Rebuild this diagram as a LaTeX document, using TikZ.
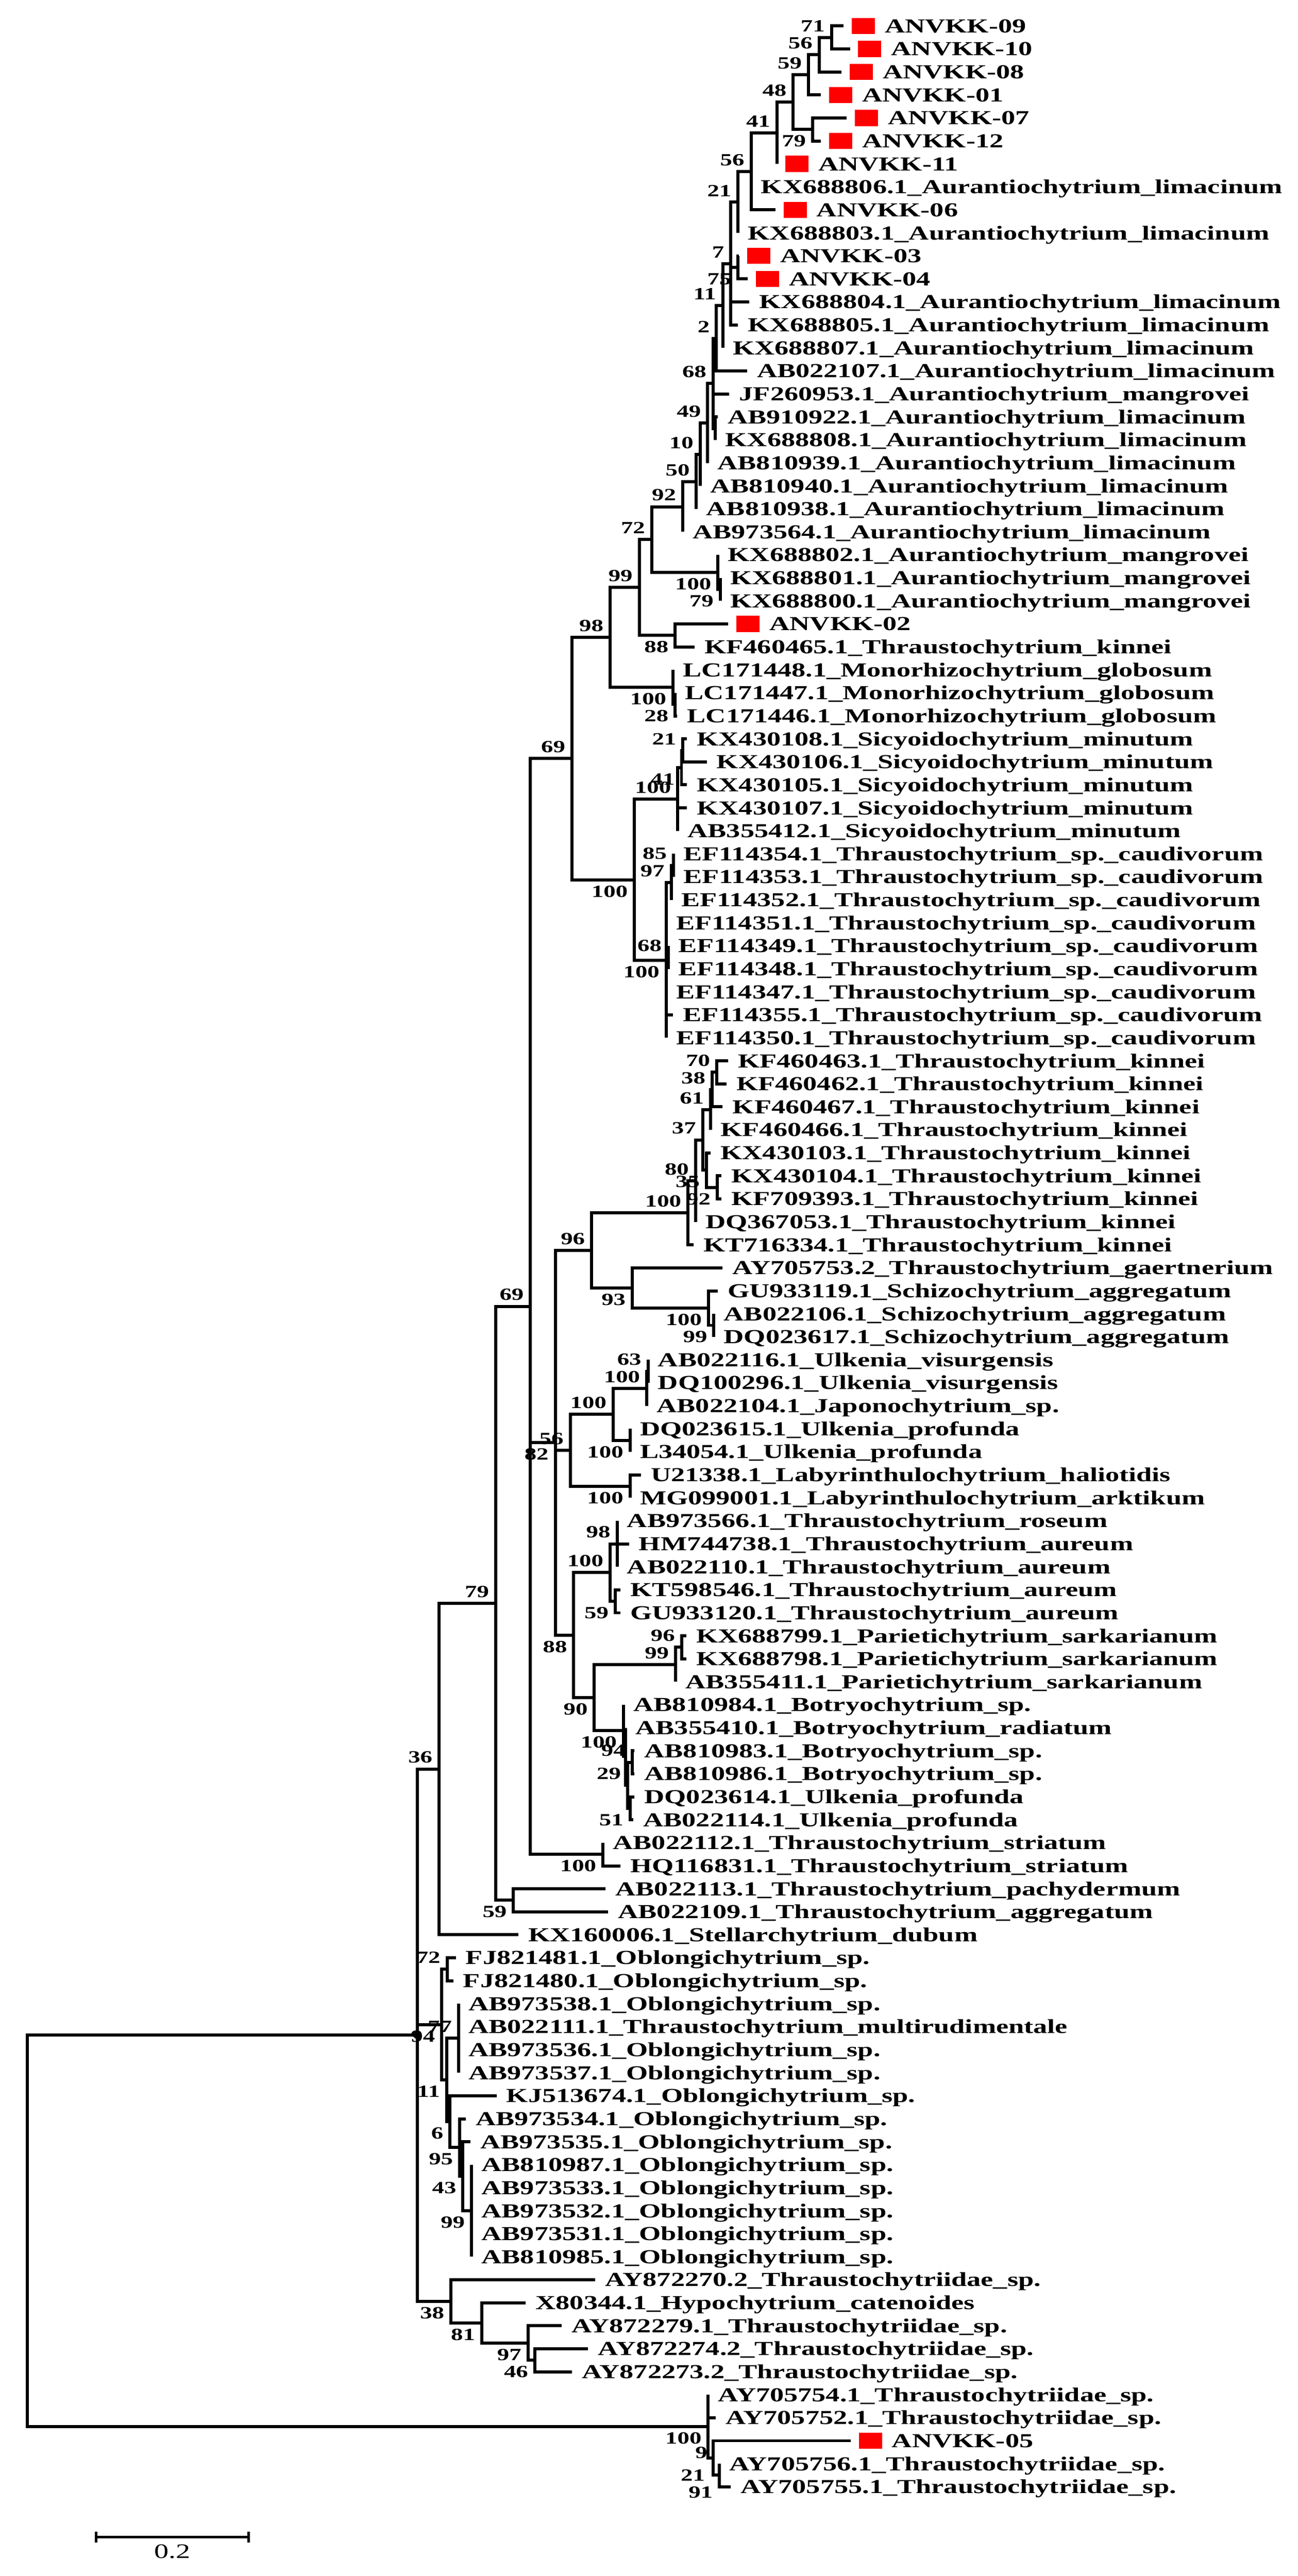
\documentclass[tikz,border=0pt]{standalone}
\usepackage{fontspec}
\usetikzlibrary{calc}
\newfontfamily\lfont{Liberation Serif}[FakeStretch=1.41]
\newcommand\Lf[4]{\coordinate (#1) at (#3,{16+(#2-1)*14.18});
  \node[lt] (#1t) at ($(#1)+(6,4.1)$) {#4};}
\newcommand\Lr[4]{\coordinate (#1) at (#3,{16+(#2-1)*14.18});
  \node[rsq] (#1s) at ($(#1)+(12.15,0)$) {};
  \node[lt] (#1t) at ($(#1)+(25.3,4.1)$) {#4};}
\newcommand\Nd[5]{\coordinate (tmp) at ($(#3)!0.5!(#4)$);
  \coordinate (#1) at (#2,0 |- tmp);
  \foreach \c in {#5} {\draw[br] (\c) -| (#1);}}
\newcommand\Sa[2]{\node[st,anchor=south east] at ($(#1)+(-4,-3.5)$) {#2};}
\newcommand\Sb[2]{\node[st,anchor=north east] at ($(#1)+(-4,3.5)$) {#2};}
\begin{document}
\begin{tikzpicture}[x=0.05cm,y=-0.05cm,
  br/.style={line width=2.7pt,line join=miter},
  lt/.style={anchor=base west,inner sep=0pt,font=\lfont\bfseries\fontsize{17.4}{18}\selectfont},
  st/.style={inner sep=0pt,font=\lfont\bfseries\fontsize{15}{16}\selectfont},
  rsq/.style={fill=red,draw=none,minimum width=14.3*0.05cm,minimum height=0.5cm,inner sep=0pt}]
\path[use as bounding box,fill=white] (0,0) rectangle (800,1588.3);
% ---------- leaves
\Lr{L1}{1}{520}{ANVKK-09}
\Lr{L2}{2}{524}{ANVKK-10}
\Lr{L3}{3}{518.8}{ANVKK-08}
\Lr{L4}{4}{506}{ANVKK-01}
\Lr{L5}{5}{522}{ANVKK-07}
\Lr{L6}{6}{506}{ANVKK-12}
\Lr{L7}{7}{479}{ANVKK-11}
\Lf{L8}{8}{463}{KX688806.1\_Aurantiochytrium\_limacinum}
\Lr{L9}{9}{478}{ANVKK-06}
\Lf{L10}{10}{455}{KX688803.1\_Aurantiochytrium\_limacinum}
\Lr{L11}{11}{455.5}{ANVKK-03}
\Lr{L12}{12}{461}{ANVKK-04}
\Lf{L13}{13}{462}{KX688804.1\_Aurantiochytrium\_limacinum}
\Lf{L14}{14}{455}{KX688805.1\_Aurantiochytrium\_limacinum}
\Lf{L15}{15}{445.6}{KX688807.1\_Aurantiochytrium\_limacinum}
\Lf{L16}{16}{460.5}{AB022107.1\_Aurantiochytrium\_limacinum}
\Lf{L17}{17}{449.6}{JF260953.1\_Aurantiochytrium\_mangrovei}
\Lf{L18}{18}{442.5}{AB910922.1\_Aurantiochytrium\_limacinum}
\Lf{L19}{19}{441}{KX688808.1\_Aurantiochytrium\_limacinum}
\Lf{L20}{20}{436.2}{AB810939.1\_Aurantiochytrium\_limacinum}
\Lf{L21}{21}{431.6}{AB810940.1\_Aurantiochytrium\_limacinum}
\Lf{L22}{22}{429.3}{AB810938.1\_Aurantiochytrium\_limacinum}
\Lf{L23}{23}{420.9}{AB973564.1\_Aurantiochytrium\_limacinum}
\Lf{L24}{24}{442.6}{KX688802.1\_Aurantiochytrium\_mangrovei}
\Lf{L25}{25}{444}{KX688801.1\_Aurantiochytrium\_mangrovei}
\Lf{L26}{26}{444}{KX688800.1\_Aurantiochytrium\_mangrovei}
\Lr{L27}{27}{449}{ANVKK-02}
\Lf{L28}{28}{428.2}{KF460465.1\_Thraustochytrium\_kinnei}
\Lf{L29}{29}{414.9}{LC171448.1\_Monorhizochytrium\_globosum}
\Lf{L30}{30}{416.2}{LC171447.1\_Monorhizochytrium\_globosum}
\Lf{L31}{31}{417.5}{LC171446.1\_Monorhizochytrium\_globosum}
\Lf{L32}{32}{423.5}{KX430108.1\_Sicyoidochytrium\_minutum}
\Lf{L33}{33}{435.7}{KX430106.1\_Sicyoidochytrium\_minutum}
\Lf{L34}{34}{423.5}{KX430105.1\_Sicyoidochytrium\_minutum}
\Lf{L35}{35}{423.5}{KX430107.1\_Sicyoidochytrium\_minutum}
\Lf{L36}{36}{417.8}{AB355412.1\_Sicyoidochytrium\_minutum}
\Lf{L37}{37}{415.2}{EF114354.1\_Thraustochytrium\_sp.\_caudivorum}
\Lf{L38}{38}{415.2}{EF114353.1\_Thraustochytrium\_sp.\_caudivorum}
\Lf{L39}{39}{413.8}{EF114352.1\_Thraustochytrium\_sp.\_caudivorum}
\Lf{L40}{40}{410.7}{EF114351.1\_Thraustochytrium\_sp.\_caudivorum}
\Lf{L41}{41}{412}{EF114349.1\_Thraustochytrium\_sp.\_caudivorum}
\Lf{L42}{42}{412}{EF114348.1\_Thraustochytrium\_sp.\_caudivorum}
\Lf{L43}{43}{410.7}{EF114347.1\_Thraustochytrium\_sp.\_caudivorum}
\Lf{L44}{44}{414.8}{EF114355.1\_Thraustochytrium\_sp.\_caudivorum}
\Lf{L45}{45}{410.7}{EF114350.1\_Thraustochytrium\_sp.\_caudivorum}
\Lf{L46}{46}{448.8}{KF460463.1\_Thraustochytrium\_kinnei}
\Lf{L47}{47}{447.8}{KF460462.1\_Thraustochytrium\_kinnei}
\Lf{L48}{48}{445.5}{KF460467.1\_Thraustochytrium\_kinnei}
\Lf{L49}{49}{438.1}{KF460466.1\_Thraustochytrium\_kinnei}
\Lf{L50}{50}{438.1}{KX430103.1\_Thraustochytrium\_kinnei}
\Lf{L51}{51}{444.8}{KX430104.1\_Thraustochytrium\_kinnei}
\Lf{L52}{52}{444.8}{KF709393.1\_Thraustochytrium\_kinnei}
\Lf{L53}{53}{428.8}{DQ367053.1\_Thraustochytrium\_kinnei}
\Lf{L54}{54}{427.5}{KT716334.1\_Thraustochytrium\_kinnei}
\Lf{L55}{55}{445.5}{AY705753.2\_Thraustochytrium\_gaertnerium}
\Lf{L56}{56}{442.4}{GU933119.1\_Schizochytrium\_aggregatum}
\Lf{L57}{57}{440.1}{AB022106.1\_Schizochytrium\_aggregatum}
\Lf{L58}{58}{440.1}{DQ023617.1\_Schizochytrium\_aggregatum}
\Lf{L59}{59}{399.5}{AB022116.1\_Ulkenia\_visurgensis}
\Lf{L60}{60}{399.5}{DQ100296.1\_Ulkenia\_visurgensis}
\Lf{L61}{61}{398.7}{AB022104.1\_Japonochytrium\_sp.}
\Lf{L62}{62}{388.4}{DQ023615.1\_Ulkenia\_profunda}
\Lf{L63}{63}{388.4}{L34054.1\_Ulkenia\_profunda}
\Lf{L64}{64}{395.1}{U21338.1\_Labyrinthulochytrium\_haliotidis}
\Lf{L65}{65}{388.4}{MG099001.1\_Labyrinthulochytrium\_arktikum}
\Lf{L66}{66}{380.4}{AB973566.1\_Thraustochytrium\_roseum}
\Lf{L67}{67}{387.7}{HM744738.1\_Thraustochytrium\_aureum}
\Lf{L68}{68}{380.4}{AB022110.1\_Thraustochytrium\_aureum}
\Lf{L69}{69}{382.4}{KT598546.1\_Thraustochytrium\_aureum}
\Lf{L70}{70}{382.4}{GU933120.1\_Thraustochytrium\_aureum}
\Lf{L71}{71}{423.1}{KX688799.1\_Parietichytrium\_sarkarianum}
\Lf{L72}{72}{423.1}{KX688798.1\_Parietichytrium\_sarkarianum}
\Lf{L73}{73}{416.5}{AB355411.1\_Parietichytrium\_sarkarianum}
\Lf{L74}{74}{384.4}{AB810984.1\_Botryochytrium\_sp.}
\Lf{L75}{75}{385.7}{AB355410.1\_Botryochytrium\_radiatum}
\Lf{L76}{76}{391.1}{AB810983.1\_Botryochytrium\_sp.}
\Lf{L77}{77}{391.1}{AB810986.1\_Botryochytrium\_sp.}
\Lf{L78}{78}{391.1}{DQ023614.1\_Ulkenia\_profunda}
\Lf{L79}{79}{390.4}{AB022114.1\_Ulkenia\_profunda}
\Lf{L80}{80}{371.7}{AB022112.1\_Thraustochytrium\_striatum}
\Lf{L81}{81}{382.4}{HQ116831.1\_Thraustochytrium\_striatum}
\Lf{L82}{82}{373.3}{AB022113.1\_Thraustochytrium\_pachydermum}
\Lf{L83}{83}{374.9}{AB022109.1\_Thraustochytrium\_aggregatum}
\Lf{L84}{84}{319.5}{KX160006.1\_Stellarchytrium\_dubum}
\Lf{L85}{85}{281}{FJ821481.1\_Oblongichytrium\_sp.}
\Lf{L86}{86}{279.4}{FJ821480.1\_Oblongichytrium\_sp.}
\Lf{L87}{87}{282.7}{AB973538.1\_Oblongichytrium\_sp.}
\Lf{L88}{88}{282.7}{AB022111.1\_Thraustochytrium\_multirudimentale}
\Lf{L89}{89}{282.7}{AB973536.1\_Oblongichytrium\_sp.}
\Lf{L90}{90}{282.7}{AB973537.1\_Oblongichytrium\_sp.}
\Lf{L91}{91}{306.1}{KJ513674.1\_Oblongichytrium\_sp.}
\Lf{L92}{92}{287.1}{AB973534.1\_Oblongichytrium\_sp.}
\Lf{L93}{93}{290}{AB973535.1\_Oblongichytrium\_sp.}
\Lf{L94}{94}{290.7}{AB810987.1\_Oblongichytrium\_sp.}
\Lf{L95}{95}{290.7}{AB973533.1\_Oblongichytrium\_sp.}
\Lf{L96}{96}{290.7}{AB973532.1\_Oblongichytrium\_sp.}
\Lf{L97}{97}{290.7}{AB973531.1\_Oblongichytrium\_sp.}
\Lf{L98}{98}{290.7}{AB810985.1\_Oblongichytrium\_sp.}
\Lf{L99}{99}{366.9}{AY872270.2\_Thraustochytriidae\_sp.}
\Lf{L100}{100}{324.1}{X80344.1\_Hypochytrium\_catenoides}
\Lf{L101}{101}{346.2}{AY872279.1\_Thraustochytriidae\_sp.}
\Lf{L102}{102}{362.6}{AY872274.2\_Thraustochytriidae\_sp.}
\Lf{L103}{103}{352.6}{AY872273.2\_Thraustochytriidae\_sp.}
\Lf{L104}{104}{436.6}{AY705754.1\_Thraustochytriidae\_sp.}
\Lf{L105}{105}{441.2}{AY705752.1\_Thraustochytriidae\_sp.}
\Lr{L106}{106}{524.4}{ANVKK-05}
\Lf{L107}{107}{443.5}{AY705756.1\_Thraustochytriidae\_sp.}
\Lf{L108}{108}{450.4}{AY705755.1\_Thraustochytriidae\_sp.}
% ---------- internal nodes
\Nd{n71}{512.6}{L1}{L2}{L1,L2}\Sa{n71}{71}
\Nd{n56a}{505}{n71}{L3}{n71,L3}\Sa{n56a}{56}
\Nd{n59}{498.4}{n56a}{L4}{n56a,L4}\Sa{n59}{59}
\Nd{n79a}{501}{L5}{L6}{L5,L6}\Sb{n79a}{79}
\Nd{n48}{489}{n59}{n79a}{n59,n79a}\Sa{n48}{48}
\Nd{n41}{479}{n48}{L7}{n48,L7}\Sa{n41}{41}
\Nd{n56b}{463}{n41}{L9}{n41,L8,L9}\Sa{n56b}{56}
\Nd{n21}{455}{n56b}{L10}{n56b,L10}\Sa{n21}{21}
\Nd{n34}{455}{L11}{L12}{L11,L12}\Sb{n34}{75}
\Nd{n7}{450.5}{n21}{L14}{n21,n34,L13,L14}\Sa{n7}{7}
\Nd{n11}{445.6}{n7}{L15}{n7,L15}\Sa{n11}{11}
\Nd{n2}{441.6}{n11}{L16}{n11,L16}\Sa{n2}{2}
\Nd{nsub}{441}{L18}{L19}{L18,L19}
\Nd{n68}{439.6}{n2}{nsub}{n2,L17,nsub}\Sa{n68}{68}
\Nd{n49}{436.2}{n68}{L20}{n68,L20}\Sa{n49}{49}
\Nd{n10}{431.6}{n49}{L21}{n49,L21}\Sa{n10}{10}
\Nd{n50}{429.3}{n10}{L22}{n10,L22}\Sa{n50}{50}
\Nd{n92}{420.9}{n50}{L23}{n50,L23}\Sa{n92}{92}
\Nd{n79m}{444}{L25}{L26}{L25,L26}\Sb{n79m}{79}
\Nd{n100m}{442.6}{L24}{n79m}{L24,n79m}\Sb{n100m}{100}
\Nd{n72}{401.8}{n92}{n100m}{n92,n100m}\Sa{n72}{72}
\Nd{n88}{416.2}{L27}{L28}{L27,L28}\Sb{n88}{88}
\Nd{n99}{394.1}{n72}{n88}{n72,n88}\Sa{n99}{99}
\Nd{n28}{416.2}{L30}{L31}{L30,L31}\Sb{n28}{28}
\Nd{n100lc}{414.9}{L29}{n28}{L29,n28}\Sb{n100lc}{100}
\Nd{n98}{376.1}{n99}{n100lc}{n99,n100lc}\Sa{n98}{98}
\Nd{n21s}{421}{L32}{L33}{L32,L33}\Sa{n21s}{21}
\Nd{n41s}{420.1}{n21s}{L34}{n21s,L34}\Sb{n41s}{41}
\Nd{n100s}{417.8}{n41s}{L36}{n41s,L35,L36}\Sa{n100s}{100}
\Nd{n85}{415.2}{L37}{L38}{L37,L38}\Sa{n85}{85}
\Nd{n97}{413.8}{n85}{L39}{n85,L39}\Sa{n97}{97}
\Nd{n68e}{412}{L41}{L42}{L41,L42}\Sa{n68e}{68}
\Nd{n100e}{410.7}{n97}{L45}{n97,L40,n68e,L43,L44,L45}\Sb{n100e}{100}
\Nd{n100se}{391.1}{n100s}{n100e}{n100s,n100e}\Sb{n100se}{100}
\Nd{n69u}{352.6}{n98}{n100se}{n98,n100se}\Sa{n69u}{69}
\Nd{n70}{441.9}{L46}{L47}{L46,L47}\Sa{n70}{70}
\Nd{n38k}{439}{n70}{L48}{n70,L48}\Sa{n38k}{38}
\Nd{n61}{438.1}{n38k}{L49}{n38k,L49}\Sa{n61}{61}
\Nd{n92k}{442.2}{L51}{L52}{L51,L52}\Sb{n92k}{92}
\Nd{n35}{435.5}{L50}{n92k}{L50,n92k}\Sb{n35}{35}
\Nd{n37}{433.2}{n61}{n35}{n61,n35}\Sa{n37}{37}
\Nd{n80}{428.8}{n37}{L53}{n37,L53}\Sa{n80}{80}
\Nd{n100k}{424.1}{n80}{L54}{n80,L54}\Sa{n100k}{100}
\Nd{n99sc}{440.1}{L57}{L58}{L57,L58}\Sb{n99sc}{99}
\Nd{n100sc}{436.8}{L56}{n99sc}{L56,n99sc}\Sb{n100sc}{100}
\Nd{n93}{389.8}{L55}{n100sc}{L55,n100sc}\Sb{n93}{93}
\Nd{n96}{364.7}{n100k}{n93}{n100k,n93}\Sa{n96}{96}
\Nd{n63}{399.5}{L59}{L60}{L59,L60}\Sa{n63}{63}
\Nd{n100u}{398.7}{n63}{L61}{n63,L61}\Sa{n100u}{100}
\Nd{n100u2}{388.4}{L62}{L63}{L62,L63}\Sb{n100u2}{100}
\Nd{n100ua}{378}{n100u}{n100u2}{n100u,n100u2}\Sa{n100ua}{100}
\Nd{n100l}{388.4}{L64}{L65}{L64,L65}\Sb{n100l}{100}
\Nd{nC}{351.5}{n100ua}{n100l}{n100ua,n100l}\Sa{nC}{56}
\Nd{n98a}{380.4}{L66}{L68}{L66,L67,L68}\Sa{n98a}{98}
\Nd{n59a}{379.3}{L69}{L70}{L69,L70}\Sb{n59a}{59}
\Nd{n100a}{376.1}{n98a}{n59a}{n98a,n59a}\Sa{n100a}{100}
\Nd{n96p}{420.2}{L71}{L72}{L71,L72}\Sa{n96p}{96}
\Nd{n99p}{416.5}{n96p}{L73}{n96p,L73}\Sa{n99p}{99}
\Nd{n51}{388.4}{L78}{L79}{L78,L79}\Sb{n51}{51}
\Nd{n94}{389.7}{L76}{L77}{L76,L77}\Sa{n94}{94}
\Nd{n29}{386.9}{n94}{n51}{n94,n51}\Sa{n29}{29}
\Nd{nX}{385.7}{L75}{n29}{L75,n29}
\Nd{n100b}{384.4}{L74}{nX}{L74,nX}\Sb{n100b}{100}
\Nd{n90}{366.4}{n99p}{n100b}{n99p,n100b}\Sb{n90}{90}
\Nd{n88b}{353.7}{n100a}{n90}{n100a,n90}\Sb{n88b}{88}
\Nd{nB}{342.3}{n96}{n88b}{n96,nC,n88b}\Sb{nB}{82}
\Nd{nStr}{371.7}{L80}{L81}{L80,L81}\Sb{nStr}{100}
\Nd{nA}{327}{n69u}{nStr}{n69u,nB,nStr}\Sa{nA}{69}
\Nd{n59t}{316.5}{L82}{L83}{L82,L83}\Sb{n59t}{59}
\Nd{n79}{305.6}{nA}{n59t}{nA,n59t}\Sa{n79}{79}
\Nd{n36}{270.7}{n79}{L84}{n79,L84}\Sa{n36}{36}
\Nd{n72o}{275.6}{L85}{L86}{L85,L86}\Sa{n72o}{72}
\Nd{n77}{282.7}{L87}{L90}{L87,L88,L89,L90}\Sa{n77}{77}
\Nd{n99o}{290.7}{L94}{L98}{L94,L95,L96,L97,L98}\Sb{n99o}{99}
\Nd{n43}{285.4}{L93}{n99o}{L93,n99o}\Sb{n43}{43}
\Nd{n95}{283.4}{L92}{n43}{L92,n43}\Sb{n95}{95}
\Nd{n6}{277.4}{L91}{n95}{L91,n95}\Sb{n6}{6}
\Nd{n11o}{275.4}{n77}{n6}{n77,n6}\Sb{n11o}{11}
\Nd{nOb}{272.3}{n72o}{n11o}{n72o,n11o}\Sb{nOb}{94}
\Nd{n46}{329.7}{L102}{L103}{L102,L103}\Sb{n46}{46}
\Nd{n97a}{325.5}{L101}{n46}{L101,n46}\Sb{n97a}{97}
\Nd{n81}{297}{L100}{n97a}{L100,n97a}\Sb{n81}{81}
\Nd{n38}{278}{L99}{n81}{L99,n81}\Sb{n38}{38}
\Nd{nE}{257.3}{n36}{n38}{n36,nOb,n38}
\fill (nE) circle (2.4);
\Nd{n21o}{443.5}{L107}{L108}{L107,L108}
\node[st,anchor=north east] at ($(n21o)+(-4,7)$) {91};
\Nd{n9}{439.7}{L106}{n21o}{L106,n21o}
\node[st,anchor=south east] at ($(n9)+(-3.5,0.5)$) {9};
\node[st,anchor=north east] at ($(n9)+(-5,7)$) {21};
\Nd{n100o}{436.6}{L104}{n9}{L104,L105,n9}\Sb{n100o}{100}
\Nd{root}{16.8}{nE}{n100o}{nE,n100o}
% ---------- scale bar
\coordinate (sb1) at (59.2,1564.4);
\coordinate (sb2) at (153.2,1564.4);
\draw[line width=2.2pt] (sb1) -- (sb2);
\draw[line width=2.2pt] ($(sb1)+(0,-3.3)$) -- ($(sb1)+(0,3.3)$);
\draw[line width=2.2pt] ($(sb2)+(0,-3.3)$) -- ($(sb2)+(0,3.3)$);
\node[inner sep=0pt,anchor=north,font=\lfont\fontsize{18}{19}\selectfont] (sbt) at ($(sb1)!0.5!(sb2)+(0,4.5)$) {0.2};
\end{tikzpicture}
\end{document}
